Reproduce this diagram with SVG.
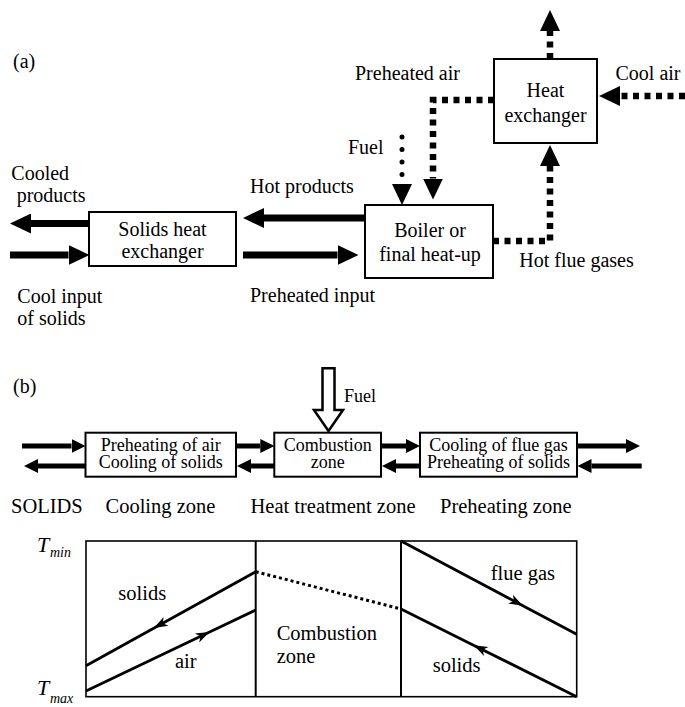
<svg xmlns="http://www.w3.org/2000/svg" width="685" height="707" viewBox="0 0 685 707">
<style>
text{font-family:'Liberation Serif','DejaVu Serif',serif;fill:#000}
.a{font-size:20px}
.b{font-size:18px}
.r{font-size:20.5px}
.c{text-anchor:middle}
.box{fill:#fff;stroke:#000;stroke-width:2}
.sa{fill:none;stroke:#000;stroke-width:7;marker-end:url(#hA)}
.da{fill:none;stroke:#000;stroke-width:6.5;stroke-dasharray:6 5.5;marker-end:url(#hA)}
.fu{fill:none;stroke:#000;stroke-width:5;stroke-linecap:round;stroke-dasharray:0 12.5;marker-end:url(#hA)}
.sb{fill:none;stroke:#000;stroke-width:5;marker-end:url(#hB)}
.ln{fill:none;stroke:#000;stroke-width:2.8}
.ar{marker-mid:url(#hC)}
.it{font-style:italic}
</style>
<defs>
<marker id="hA" markerUnits="userSpaceOnUse" viewBox="0 -10 21 20" refX="0" refY="0" markerWidth="21" markerHeight="20" orient="auto">
<path d="M0,-10 L21,0 L0,10 z" fill="#000"/>
</marker>
<marker id="hB" markerUnits="userSpaceOnUse" viewBox="0 -7 14 14" refX="0" refY="0" markerWidth="14" markerHeight="14" orient="auto">
<path d="M0,-7 L14,0 L0,7 z" fill="#000"/>
</marker>
<marker id="hC" markerUnits="userSpaceOnUse" viewBox="-8 -6 16 12" refX="0" refY="0" markerWidth="16" markerHeight="12" orient="auto">
<path d="M-7,-5 L7,0 L-7,5 L-3,0 z" fill="#000"/>
</marker>
</defs>

<!-- Part (a) -->
<text class="a" x="13" y="68">(a)</text>

<g id="connectors-a">
<line class="sa" x1="89" y1="223.5" x2="31" y2="223.5"/>
<line class="sa" x1="10" y1="255" x2="68.5" y2="255"/>
<line class="sa" x1="365" y1="218" x2="264" y2="218"/>
<line class="sa" x1="243" y1="255" x2="337.5" y2="255"/>
<line class="da" x1="550" y1="59" x2="550" y2="31"/>
<line class="da" x1="685" y1="96" x2="620" y2="96"/>
<path class="da" d="M494,100 L433,100 L433,178.5"/>
<line class="fu" x1="402" y1="137" x2="402" y2="184"/>
<path class="da" d="M493,241 L550,241 L550,166"/>
</g>

<g id="solids-hx">
<rect class="box" x="89" y="212" width="147" height="54"/>
<text class="a c" x="162.5" y="235.5">Solids heat</text>
<text class="a c" x="162.5" y="258.3">exchanger</text>
</g>
<g id="boiler">
<rect class="box" x="365" y="205" width="128" height="73"/>
<text class="a c" x="430" y="237.3">Boiler or</text>
<text class="a c" x="430" y="261">final heat-up</text>
</g>
<g id="heat-exchanger">
<rect class="box" x="494" y="59" width="103" height="84"/>
<text class="a c" x="545.5" y="96.7">Heat</text>
<text class="a c" x="545.5" y="121.7">exchanger</text>
</g>

<g id="labels-a">
<text class="a" x="11.3" y="180">Cooled</text>
<text class="a" x="16.7" y="202">products</text>
<text class="a" x="17.3" y="303">Cool input</text>
<text class="a" x="17.3" y="325">of solids</text>
<text class="a" x="250" y="193">Hot products</text>
<text class="a" x="250" y="302">Preheated input</text>
<text class="a" x="348" y="153.5">Fuel</text>
<text class="a" x="355" y="80">Preheated air</text>
<text class="a" x="615.5" y="80">Cool air</text>
<text class="a" x="519.3" y="266.7">Hot flue gases</text>
</g>

<!-- Part (b) -->
<text class="a" x="13" y="393">(b)</text>

<g id="connectors-b">
<line class="sb" x1="22" y1="446" x2="71.5" y2="446"/>
<line class="sb" x1="85.5" y1="466" x2="38" y2="466"/>
<line class="sb" x1="236" y1="446" x2="260.3" y2="446"/>
<line class="sb" x1="274.3" y1="466" x2="251" y2="466"/>
<line class="sb" x1="381" y1="446" x2="406" y2="446"/>
<line class="sb" x1="420" y1="466" x2="396" y2="466"/>
<line class="sb" x1="577" y1="446" x2="626" y2="446"/>
<line class="sb" x1="641.7" y1="466" x2="591.5" y2="466"/>
<polygon points="322.5,368.3 334.5,368.3 334.5,410 343,410 328.5,431 314,410 322.5,410" fill="#fff" stroke="#000" stroke-width="2.5" stroke-linejoin="miter"/>
</g>
<text class="b" x="344" y="401.7">Fuel</text>

<g id="cooling-box">
<rect class="box" x="85.5" y="432.7" width="150.5" height="44"/>
<text class="b c" x="160.7" y="450.5">Preheating of air</text>
<text class="b c" x="160.7" y="468">Cooling of solids</text>
</g>
<g id="combustion-box">
<rect class="box" x="274.3" y="432.7" width="106.7" height="44"/>
<text class="b c" x="327.7" y="450.5">Combustion</text>
<text class="b c" x="327.7" y="468">zone</text>
</g>
<g id="preheating-box">
<rect class="box" x="420" y="432.7" width="157" height="44"/>
<text class="b c" x="498.5" y="450.5">Cooling of flue gas</text>
<text class="b c" x="498.5" y="468">Preheating of solids</text>
</g>

<g id="zone-labels">
<text class="r" x="11" y="513.3">SOLIDS</text>
<text class="r" x="105.5" y="513.3">Cooling zone</text>
<text class="r" x="250.5" y="513.3">Heat treatment zone</text>
<text class="r" x="440" y="513.3">Preheating zone</text>
</g>

<!-- Temperature chart -->
<g id="chart">
<rect x="86" y="541" width="490.7" height="155.7" fill="none" stroke="#000" stroke-width="1.6"/>
<line x1="255.7" y1="541" x2="255.7" y2="696.7" stroke="#000" stroke-width="2"/>
<line x1="401" y1="541" x2="401" y2="696.7" stroke="#000" stroke-width="2"/>
<path class="ln ar" d="M255.7,571.7 L160,624.7 L86,665.7"/>
<path class="ln ar" d="M86,691 L203.3,635 L255.7,610"/>
<line x1="255.7" y1="571.7" x2="401" y2="609" stroke="#000" stroke-width="3" stroke-dasharray="3 3"/>
<path class="ln ar" d="M401,541 L516.7,602.4 L576.7,634.3"/>
<path class="ln ar" d="M576.7,696.7 L480,648.4 L401,609"/>
<text class="r" x="118.3" y="600">solids</text>
<text class="r" x="175" y="668.3">air</text>
<text class="r" x="276.7" y="640">Combustion</text>
<text class="r" x="276.7" y="663.3">zone</text>
<text class="r" x="490.7" y="580">flue gas</text>
<text class="r" x="432.7" y="671.7">solids</text>
<text class="it" x="37" y="552" font-size="22">T</text>
<text class="it" x="50" y="557" font-size="14">min</text>
<text class="it" x="37" y="695" font-size="22">T</text>
<text class="it" x="50" y="703" font-size="14">max</text>
</g>
</svg>
